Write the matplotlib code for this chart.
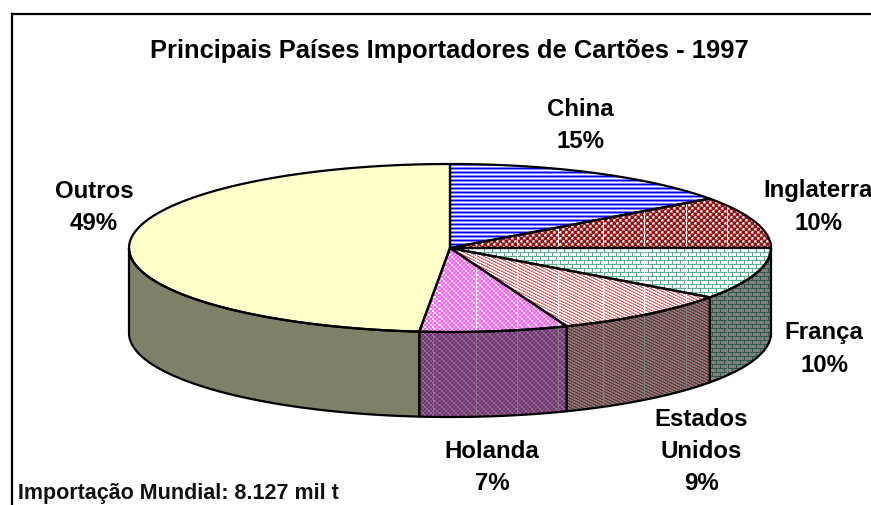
import numpy as np
import matplotlib
matplotlib.use("Agg")
import matplotlib.pyplot as plt
from matplotlib.patches import Polygon
from matplotlib.path import Path

plt.rcParams['font.family'] = ['Liberation Sans', 'DejaVu Sans']

# dados
paises = ["China", "Inglaterra", "França", "Estados Unidos", "Holanda", "Outros"]
valores = [15.0, 10.0, 10.0, 9.1, 7.45, 48.5]
rotulos = ["China\n15%", "Inglaterra\n10%", "França\n10%", "Estados\nUnidos\n9%", "Holanda\n7%", "Outros\n49%"]
titulo = "Principais Países Importadores de Cartões - 1997"
nota = "Importação Mundial: 8.127 mil t"

W, H = 871, 505
cx, cy, rx, ry, prof = 450, 248, 321, 84, 85
pos_rotulos = [(580, 125), (818, 207), (824, 349), (701, 452), (492, 468), (94, 207)]
riscos_x = [433, 475, 516, 557, 602, 643, 685, 726]

B = (255, 255, 255)
AZ = (0, 0, 255)
AZ2 = (130, 130, 255)
VM = (150, 20, 20)
VM2 = (200, 120, 120)
VD = (90, 175, 140)
RS = (255, 80, 80)
RS2 = (255, 170, 170)
MG = (255, 90, 255)
MG2 = (255, 170, 255)

tile_china = [[AZ], [AZ2], [B], [AZ2]]
tile_ingl = [[VM, VM, VM, VM2, B, VM2],
             [VM, VM, VM, B, B, VM2],
             [VM, VM, VM, VM2, VM2, VM2],
             [VM2, B, VM2, VM, VM, VM],
             [B, B, VM2, VM, VM, VM],
             [VM2, VM2, VM2, VM, VM, VM]]
tile_fran = [[VD, VD, VD, VD, VD, VD, VD, VD],
             [B, B, B, VD, B, B, B, B],
             [B, B, B, VD, B, B, B, B],
             [B, B, B, VD, B, B, B, B],
             [VD, VD, VD, VD, VD, VD, VD, VD],
             [B, B, B, B, B, B, B, VD],
             [B, B, B, B, B, B, B, VD],
             [B, B, B, B, B, B, B, VD]]
tile_eua = [[RS, RS, RS2, B, B, B],
            [B, B, RS, RS, RS2, B],
            [RS2, B, B, B, RS, RS]]
tile_hol = [[MG, MG, B, B, MG, MG, MG2, MG2],
            [MG, MG, B, B, MG, MG, MG2, MG2],
            [MG2, MG2, MG, MG, B, B, MG, MG],
            [MG2, MG2, MG, MG, B, B, MG, MG],
            [MG, MG, MG2, MG2, MG, MG, B, B],
            [MG, MG, MG2, MG2, MG, MG, B, B],
            [B, B, MG, MG, MG2, MG2, MG, MG],
            [B, B, MG, MG, MG2, MG2, MG, MG]]
tile_out = [[(255, 255, 204)]]
tiles = [tile_china, tile_ingl, tile_fran, tile_eua, tile_hol, tile_out]

gy, gx = np.mgrid[0:H, 0:W]
centros = np.c_[gx.ravel() + 0.5, gy.ravel() + 0.5]


def textura(tile, riscos=True):
    t = np.array(tile, dtype=np.uint8)
    ny = H // t.shape[0] + 1
    nx = W // t.shape[1] + 1
    img = np.tile(t, (ny, nx, 1))[:H, :W].copy()
    if riscos:
        img[:, riscos_x] = 255
    return img


def arco(a1, a2, n=120):
    th = np.radians(np.linspace(a1, a2, n))
    return cx + rx * np.sin(th), cy - ry * np.cos(th)


fig = plt.figure(figsize=(W / 100, H / 100), dpi=100)
ax = fig.add_axes([0, 0, 1, 1])

tela = np.full((H, W, 3), 255, dtype=np.uint8)


def preenche(xy, img):
    mask = Path(xy).contains_points(centros).reshape(H, W)
    tela[mask] = img[mask]
    ax.add_patch(Polygon(xy, closed=True, fc='none', ec='black', lw=1.6, zorder=3, joinstyle='round'))


angulos = np.cumsum([0] + valores) / sum(valores) * 360

# lateral do disco, desenhada antes do topo
for i in range(len(valores)):
    a1, a2 = max(angulos[i], 90), min(angulos[i + 1], 270)
    if a2 <= a1:
        continue
    x, y = arco(a1, a2)
    xy = np.r_[np.c_[x, y], np.c_[x[::-1], y[::-1] + prof]]
    img = textura(tiles[i], tiles[i] is not tile_out) // 2
    if tiles[i] is tile_out:
        img[:, :] = (128, 128, 104)
    preenche(xy, img)

# topo
for i in range(len(valores)):
    x, y = arco(angulos[i], angulos[i + 1])
    xy = np.r_[[[cx, cy]], np.c_[x, y]]
    preenche(xy, textura(tiles[i], tiles[i] is not tile_out and tiles[i] is not tile_china))

ax.imshow(tela, extent=(0, W, H, 0), interpolation='nearest', aspect='auto', zorder=1)
ax.set_xlim(0, W)
ax.set_ylim(H, 0)
ax.axis('off')

# moldura: aberta em baixo e à direita
ax.plot([12, 12], [H, 14], color='black', lw=1.6, zorder=5, solid_capstyle='projecting')
ax.plot([12, W], [14, 14], color='black', lw=1.6, zorder=5, solid_capstyle='projecting')

ax.text(449, 51, titulo, fontsize=18.4, fontweight='bold', ha='center', va='center')
for r, (x, y) in zip(rotulos, pos_rotulos):
    ax.text(x, y, r, fontsize=17.3, fontweight='bold', ha='center', va='center',
            linespacing=1.5, zorder=6)
ax.text(18, 494, nota, fontsize=15.5, fontweight='bold', ha='left', va='center', color='#111111')

fig.savefig("out.png", dpi=100)
